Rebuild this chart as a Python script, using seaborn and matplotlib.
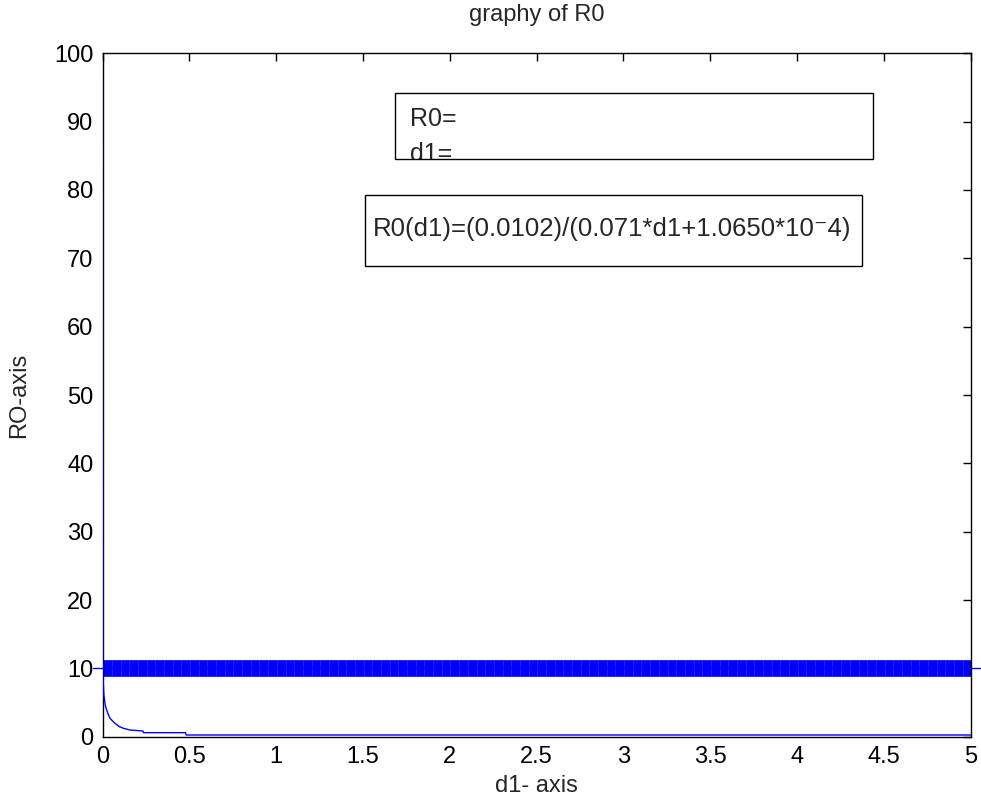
import numpy as np
import pandas as pd
import matplotlib
matplotlib.use("Agg")
import matplotlib.pyplot as plt
import seaborn as sns
from matplotlib.patches import Rectangle

# values
d1_curve = [0.0, 0.002, 0.008, 0.016, 0.024, 0.034, 0.043, 0.058, 0.072, 0.095,
            0.12, 0.158, 0.233, 0.236, 0.478, 0.482, 5.0]
r0_curve = [95.8, 9.0, 6.1, 4.6, 3.9, 3.2, 2.7, 2.3, 1.96, 1.5,
            1.23, 0.98, 0.83, 0.59, 0.59, 0.25, 0.25]
d1_band = np.round(np.arange(0, 5.0001, 0.05), 2)
r0_band = [10.0] * len(d1_band)
band_line_x = [-0.055, 5.055]
band_line_y = [10.0, 10.0]

title = "graphy of R0"
xlabel = "d1- axis"
ylabel = "RO-axis"
box1_lines = ["R0=", "d1="]
box2_text = "R0(d1)=(0.0102)/(0.071*d1+1.0650*10\u207b4)"

sns.set_style("white")
plt.rcParams['font.family'] = ['Liberation Sans', 'DejaVu Sans']

W, H = 981, 802
fig = plt.figure(figsize=(W / 100, H / 100), dpi=100)
ax = fig.add_axes([102.5 / W, 1 - 736.7 / H, (970.7 - 102.5) / W, (736.7 - 53.3) / H])

curve = pd.DataFrame({"d1": d1_curve, "R0": r0_curve})
band = pd.DataFrame({"d1": d1_band, "R0": r0_band})

sns.scatterplot(data=band, x="d1", y="R0", ax=ax, marker="s", s=135,
                color="blue", edgecolor="#2a2aff", linewidth=0.6, zorder=2)
ax.plot(band_line_x, band_line_y, color="blue", lw=1, clip_on=False, zorder=3)
sns.lineplot(data=curve, x="d1", y="R0", ax=ax, color="blue", lw=1,
             sort=False, estimator=None, zorder=4)

ax.set_xlim(0, 5)
ax.set_ylim(0, 100)
ax.set_xticks(np.arange(0, 5.01, 0.5))
ax.set_xticklabels(["0", "0.5", "1", "1.5", "2", "2.5", "3", "3.5", "4", "4.5", "5"])
ax.set_yticks(np.arange(0, 101, 10))
ax.tick_params(direction="in", length=6, width=1, top=True, right=True,
               labelsize=17, colors="black", pad=6.5)
for s in ax.spines.values():
    s.set_color("black")
    s.set_linewidth(1)
ax.set_xlabel("")
ax.set_ylabel("")

fig.text(536.6 / W, 1 - 15 / H, title, ha="center", va="center", fontsize=17)
fig.text(536.6 / W, 1 - 786 / H, xlabel, ha="center", va="center", fontsize=17)
fig.text(19 / W, 1 - 395 / H, ylabel, ha="center", va="center", rotation=90, fontsize=17)


def px_rect(x0, y0, x1, y1):
    return Rectangle((x0 / W, 1 - y1 / H), (x1 - x0) / W, (y1 - y0) / H,
                     transform=fig.transFigure, fill=False, edgecolor="black", lw=1)


r1 = px_rect(395, 93, 873, 159)
fig.add_artist(r1)
for i, line in enumerate(box1_lines):
    t = fig.text(410 / W, 1 - (119 + i * 35) / H, line, ha="left", va="center", fontsize=18)
    t.set_clip_path(r1)

r2 = px_rect(365, 195, 862, 266)
fig.add_artist(r2)
fig.text(612 / W, 1 - 229 / H, box2_text, ha="center", va="center", fontsize=18.5)

fig.savefig("out.png", dpi=100)
